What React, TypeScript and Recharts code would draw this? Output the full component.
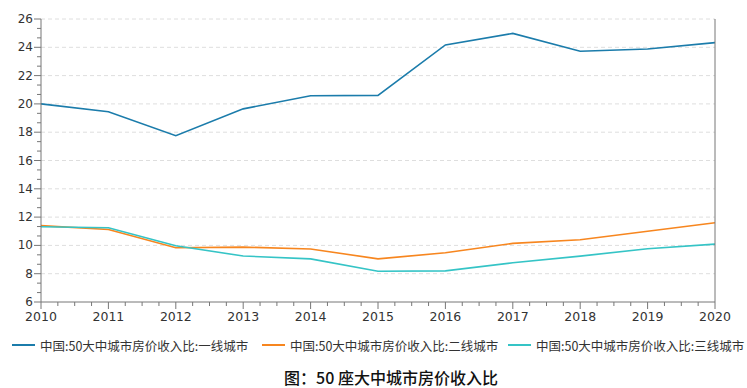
import React from "react";
import { LineChart, Line, XAxis, YAxis, ReferenceLine } from "recharts";

const years = [2010, 2011, 2012, 2013, 2014, 2015, 2016, 2017, 2018, 2019, 2020];
const tier1 = [20.0, 19.45, 17.75, 19.65, 20.58, 20.6, 24.17, 24.98, 23.72, 23.88, 24.33];
const tier2 = [11.4, 11.12, 9.83, 9.88, 9.75, 9.05, 9.48, 10.14, 10.4, 11.0, 11.6];
const tier3 = [11.32, 11.25, 9.97, 9.25, 9.05, 8.17, 8.2, 8.77, 9.24, 9.76, 10.09];
const seriesNames = [
  "中国:50大中城市房价收入比:一线城市",
  "中国:50大中城市房价收入比:二线城市",
  "中国:50大中城市房价收入比:三线城市",
];
const seriesColors = ["#1b7cab", "#f7861f", "#35c4c6"];
const yMajorTicks = [6, 8, 10, 12, 14, 16, 18, 20, 22, 24, 26];
const title = "图：50 座大中城市房价收入比";

const data = years.map((y, i) => ({ year: y, t1: tier1[i], t2: tier2[i], t3: tier3[i] }));

// minor tick positions (3 subdivisions per y step, 4 per year)
const yAllTicks: number[] = [];
for (let k = 0; k < yMajorTicks.length - 1; k++) {
  const a = yMajorTicks[k];
  const b = yMajorTicks[k + 1];
  for (let j = 0; j < 3; j++) yAllTicks.push(a + ((b - a) * j) / 3);
}
yAllTicks.push(yMajorTicks[yMajorTicks.length - 1]);

const xAllTicks: number[] = [];
for (let k = 0; k < years.length - 1; k++) {
  for (let j = 0; j < 4; j++) xAllTicks.push(years[k] + j / 4);
}
xAllTicks.push(years[years.length - 1]);

const isMajorY = (v: number) => yMajorTicks.some((m) => Math.abs(m - v) < 1e-6);
const isMajorX = (v: number) => years.some((m) => Math.abs(m - v) < 1e-6);

const AXIS = "#777";
const LABEL = "#333";
const FONT = "DejaVu Sans, Verdana, sans-serif";

const LeftTick = (props: any) => {
  const { x, y, payload } = props;
  const major = isMajorY(payload.value);
  const len = major ? 7 : 4;
  return (
    <g>
      <line x1={x - len} x2={x} y1={y} y2={y} stroke={AXIS} strokeWidth={1} />
      {major && (
        <text x={x - 8} y={y} dy={4} textAnchor="end" fontSize={12} fill={LABEL} fontFamily={FONT}>
          {payload.value}
        </text>
      )}
    </g>
  );
};

const RightTick = (props: any) => {
  const { x, y, payload } = props;
  const major = isMajorY(payload.value);
  const len = major ? 7 : 4;
  return (
    <g>
      <line x1={x} x2={x + len} y1={y} y2={y} stroke={AXIS} strokeWidth={1} />
      {major && (
        <text x={x + 8} y={y} dy={4} textAnchor="start" fontSize={12} fill={LABEL} fontFamily={FONT}>
          {payload.value}
        </text>
      )}
    </g>
  );
};

const BottomTick = (props: any) => {
  const { x, y, payload } = props;
  const major = isMajorX(payload.value);
  const len = major ? 7 : 4;
  return (
    <g>
      <line x1={x} x2={x} y1={y} y2={y + len} stroke={AXIS} strokeWidth={1} />
      {major && (
        <text x={x} y={y + 19} textAnchor="middle" fontSize={12.5} fill={LABEL} fontFamily={FONT}>
          {Math.round(payload.value)}
        </text>
      )}
    </g>
  );
};

const legendLefts = [12, 262, 508];

export default function App() {
  return (
    <div style={{ position: "absolute", left: 0, top: 0, width: 747, height: 388, background: "#fff" }}>
      <LineChart width={747} height={388} data={data} margin={{ top: 19, right: 0, left: 0, bottom: 0 }}>
        <XAxis
          dataKey="year"
          type="number"
          domain={[2010, 2020]}
          ticks={xAllTicks}
          interval={0}
          tickSize={0}
          tickMargin={0}
          tickLine={false}
          tick={<BottomTick />}
          height={86}
          stroke={AXIS}
          axisLine={{ stroke: AXIS }}
          allowDecimals
        />
        <YAxis
          yAxisId="left"
          domain={[6, 26]}
          ticks={yAllTicks}
          interval={0}
          tickSize={0}
          tickMargin={0}
          tickLine={false}
          tick={<LeftTick />}
          width={41}
          axisLine={{ stroke: AXIS }}
          allowDecimals
        />
        <YAxis
          yAxisId="right"
          orientation="right"
          domain={[6, 26]}
          ticks={yAllTicks}
          interval={0}
          tickSize={0}
          tickMargin={0}
          tickLine={false}
          tick={<RightTick />}
          width={32}
          axisLine={{ stroke: AXIS }}
          allowDecimals
        />
        {yMajorTicks.slice(1).map((v) => (
          <ReferenceLine key={v} yAxisId="left" y={v} stroke="#dedede" strokeDasharray="4 3" />
        ))}
        <Line yAxisId="left" type="linear" dataKey="t1" stroke={seriesColors[0]} strokeWidth={1.6} dot={false} isAnimationActive={false} />
        <Line yAxisId="left" type="linear" dataKey="t2" stroke={seriesColors[1]} strokeWidth={1.6} dot={false} isAnimationActive={false} />
        <Line yAxisId="left" type="linear" dataKey="t3" stroke={seriesColors[2]} strokeWidth={1.6} dot={false} isAnimationActive={false} />
      </LineChart>
      {seriesNames.map((name, i) => (
        <div
          key={name}
          style={{
            position: "absolute",
            left: legendLefts[i],
            top: 336,
            display: "flex",
            alignItems: "center",
            whiteSpace: "nowrap",
            fontFamily: "Noto Sans CJK SC, sans-serif",
            fontSize: 12.5,
            color: "#333",
            height: 18,
          }}
        >
          <span style={{ display: "inline-block", width: 23, height: 2, background: seriesColors[i], marginRight: 5 }} />
          <span>{name}</span>
        </div>
      ))}
      <div
        style={{
          position: "absolute",
          left: 0,
          width: 782,
          top: 366,
          textAlign: "center",
          fontFamily: "Noto Sans CJK SC, sans-serif",
          fontSize: 16,
          fontWeight: 500,
          color: "#111",
          lineHeight: "22px",
        }}
      >
        {title}
      </div>
    </div>
  );
}
